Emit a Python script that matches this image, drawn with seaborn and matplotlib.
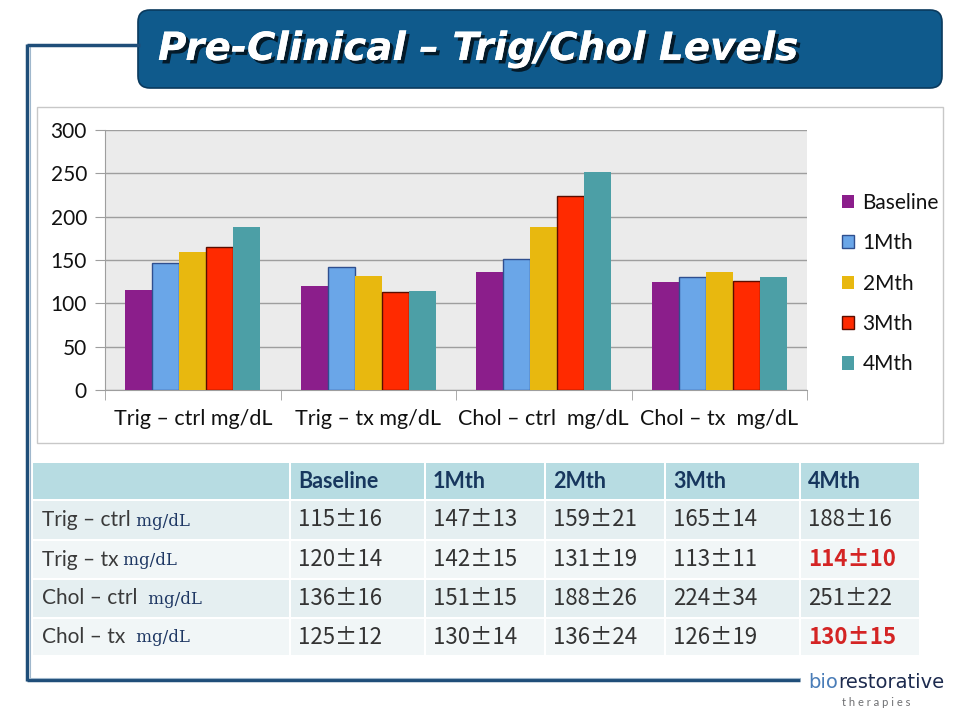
import pandas as pd
import numpy as np
import matplotlib.pyplot as plt
import matplotlib.patheffects as pe
from matplotlib.patches import Rectangle, FancyBboxPatch
import seaborn as sns

# data
groups = ['Trig – ctrl mg/dL', 'Trig – tx mg/dL', 'Chol – ctrl  mg/dL', 'Chol – tx  mg/dL']
row_names = ['Trig – ctrl', 'Trig – tx', 'Chol – ctrl ', 'Chol – tx ']
times = ['Baseline', '1Mth', '2Mth', '3Mth', '4Mth']
baseline_mean = [115, 120, 136, 125]
mth1_mean = [147, 142, 151, 130]
mth2_mean = [159, 131, 188, 136]
mth3_mean = [165, 113, 224, 126]
mth4_mean = [188, 114, 251, 130]
baseline_sd = [16, 14, 16, 12]
mth1_sd = [13, 15, 15, 14]
mth2_sd = [21, 19, 26, 24]
mth3_sd = [14, 11, 34, 19]
mth4_sd = [16, 10, 22, 15]
highlight = [(1, 4), (3, 4)]  # (row, col) shown in red bold

colors = ['#8b1e8b', '#6aa6e8', '#e8b80f', '#ff2a00', '#4c9fa6']
edges = [None, '#2f4f8f', None, '#5a0d00', None]

means = [baseline_mean, mth1_mean, mth2_mean, mth3_mean, mth4_mean]
sds = [baseline_sd, mth1_sd, mth2_sd, mth3_sd, mth4_sd]

df = pd.DataFrame([(g, t, means[j][i]) for j, t in enumerate(times) for i, g in enumerate(groups)],
                  columns=['group', 'time', 'value'])

sns.set_style('white')
plt.rcParams['font.family'] = ['Lato', 'DejaVu Sans']

fig = plt.figure(figsize=(9.6, 7.2), dpi=100)

# background layer in pixel coordinates
bg = fig.add_axes([0, 0, 1, 1], zorder=0)
bg.set_xlim(0, 960)
bg.set_ylim(720, 0)
bg.axis('off')

# frame lines
navy = '#1f4e79'
bg.plot([27, 27], [44, 681], color=navy, lw=2.5, solid_capstyle='butt')
bg.plot([29.5, 29.5], [47, 678], color='#9fb7cc', lw=0.8)
bg.plot([27, 140], [45, 45], color=navy, lw=2.5, solid_capstyle='butt')
bg.plot([27, 800], [680, 680], color=navy, lw=2.5, solid_capstyle='butt')
bg.plot([29, 800], [677.5, 677.5], color='#9fb7cc', lw=0.8)

# title box
bg.add_patch(FancyBboxPatch((138, 10), 804, 78, boxstyle='round,pad=0,rounding_size=12',
                            facecolor='#0f5a8c', edgecolor='#0a3a5e', lw=1.2))
bg.text(158, 49, 'Pre-Clinical – Trig/Chol Levels', color='white', fontsize=28,
        fontweight='bold', fontstyle='italic', family=['DejaVu Sans'], ha='left', va='center',
        path_effects=[pe.withSimplePatchShadow(offset=(2.5, -2.5), shadow_rgbFace='black', alpha=0.7),
                      pe.Normal()])

# chart box
bg.add_patch(Rectangle((37, 107), 906, 336, facecolor='white', edgecolor='#c8c8c8', lw=1))

# bar chart
ax = fig.add_axes([105 / 960, 1 - 390 / 720, 702 / 960, 260 / 720], zorder=1)
ax.set_facecolor('#ebebeb')
sns.barplot(data=df, x='group', y='value', hue='time', palette=colors, width=0.77,
            saturation=1, gap=0, ax=ax, zorder=3)
for cont, ec in zip(ax.containers, edges):
    for bar in cont:
        if ec:
            bar.set_edgecolor(ec)
            bar.set_linewidth(1)
        else:
            bar.set_linewidth(0)

ax.set_xlim(-0.5, 3.5)
ax.set_ylim(0, 300)
ax.set_yticks(range(0, 301, 50))
ax.yaxis.grid(True, color='#9e9e9e', lw=1, zorder=0)
ax.set_axisbelow(True)
ax.set_xlabel('')
ax.set_ylabel('')
for s in ['top', 'right']:
    ax.spines[s].set_visible(False)
ax.spines['left'].set_color('#9e9e9e')
ax.spines['bottom'].set_color('#9e9e9e')
ax.tick_params(axis='y', length=7, color='#9e9e9e', labelsize=15, pad=6, labelcolor='#111111', left=True)
ax.tick_params(axis='x', which='major', length=0, labelsize=15.5, pad=14, labelcolor='#111111')
ax.set_xticks(np.arange(-0.5, 4, 1), minor=True)
ax.tick_params(axis='x', which='minor', length=7, color='#9e9e9e', bottom=True)

handles, labels = ax.get_legend_handles_labels()
ax.legend_.remove()
for h, ec in zip(handles, edges):
    if ec:
        h.set_edgecolor(ec)
        h.set_linewidth(1)
    else:
        h.set_linewidth(0)
fig.legend(handles, labels, loc='upper left', bbox_to_anchor=(823 / 960, 1 - 174 / 720),
           frameon=False, fontsize=15, handlelength=0.6, handleheight=0.6, handletextpad=0.4,
           labelspacing=0.98, labelcolor='#111111')

# table
col_edges = [33, 290, 425, 545, 665, 800, 920]
row_edges = [(463, 499), (501, 539), (541, 578), (580, 617), (619, 655)]
row_fill = ['#b7dce2', '#e5eff1', '#f1f6f7', '#e5eff1', '#f1f6f7']
for r, (y0, y1) in enumerate(row_edges):
    for c in range(6):
        x0, x1 = col_edges[c] + (1 if c else 0), col_edges[c + 1] - 1
        bg.add_patch(Rectangle((x0, y0), x1 - x0, y1 - y0, facecolor=row_fill[r], edgecolor='none'))

for c, t in enumerate(times):
    bg.text(col_edges[c + 1] + 8, (row_edges[0][0] + row_edges[0][1]) / 2, t, fontsize=15.5,
            fontweight='bold', color='#17375e', va='center', ha='left')

for i, name in enumerate(row_names):
    yc = (row_edges[i + 1][0] + row_edges[i + 1][1]) / 2
    lab = bg.text(42, yc, name, fontsize=15, color='#3a3a3a', va='center', ha='left')
    bg.annotate(' mg/dL', xy=(1, 0.45), xycoords=lab, va='center', ha='left', fontsize=12,
                family=['DejaVu Serif'], color='#1f3864')
    for j in range(5):
        red = (i, j) in highlight
        bg.text(col_edges[j + 1] + 8, yc, f'{means[j][i]}±{sds[j][i]}', fontsize=16,
                family=['Noto Sans CJK JP', 'DejaVu Sans'],
                color='#d42424' if red else '#333333', fontweight='bold' if red else 'normal',
                va='center', ha='left')

# logo
logo = bg.text(808, 688, 'bio', fontsize=14, color='#4a7db8', family=['DejaVu Sans'], ha='left',
               va='baseline')
bg.annotate('restorative', xy=(1, 0), xycoords=logo, fontsize=14, color='#1d2b4f',
            family=['DejaVu Sans'], ha='left', va='bottom')
bg.text(876, 702, 't h e r a p i e s', fontsize=8, color='#6d6e71', ha='center', va='center')

fig.savefig('out.png', dpi=100, facecolor='white')
